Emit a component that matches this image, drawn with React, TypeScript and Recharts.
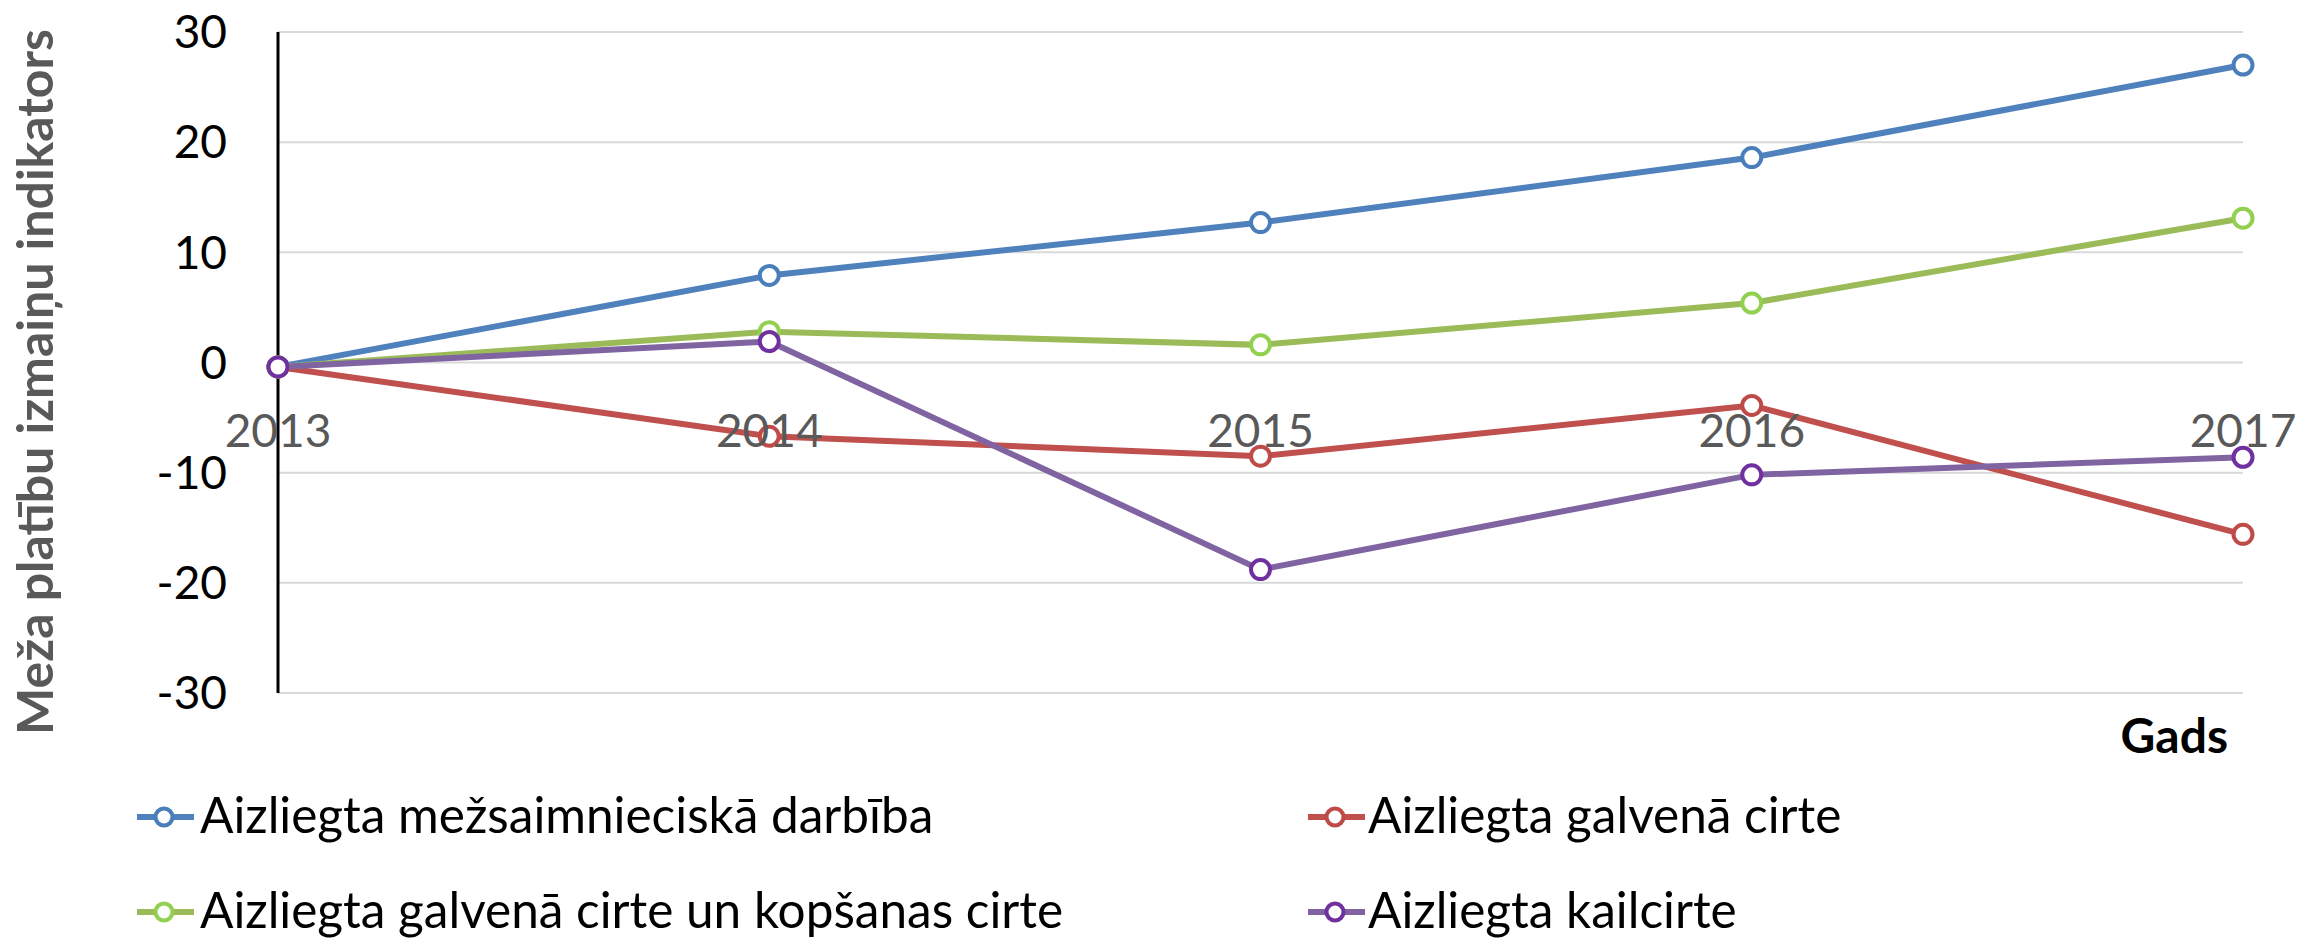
import React from 'react';
import { LineChart, Line, XAxis, YAxis, CartesianGrid, Legend } from 'recharts';

const years = ['2013', '2014', '2015', '2016', '2017'];
const mezsaimnieciska = [-0.4, 7.9, 12.7, 18.6, 27.0];
const galvena = [-0.4, -6.7, -8.5, -3.9, -15.6];
const galvenaKopsanas = [-0.4, 2.8, 1.6, 5.4, 13.1];
const kailcirte = [-0.4, 1.9, -18.8, -10.2, -8.6];
const yTicks = [-30, -20, -10, 0, 10, 20, 30];

const seriesNames = {
  a: 'Aizliegta mežsaimnieciskā darbība',
  b: 'Aizliegta galvenā cirte',
  c: 'Aizliegta galvenā cirte un kopšanas cirte',
  d: 'Aizliegta kailcirte',
};

const data = years.map((y, i) => ({
  year: y,
  a: mezsaimnieciska[i],
  b: galvena[i],
  c: galvenaKopsanas[i],
  d: kailcirte[i],
}));

const W = 2298;
const H = 938;
const PLOT_TOP = 32;
const PLOT_LEFT = 278;
const PLOT_RIGHT = 2243;
const PLOT_BOTTOM = 693;
const LEGEND_H = 160;
const Y_MIN = -30;
const Y_MAX = 30;
const FONT = 'Lato, "Open Sans", sans-serif';

const styles = [
  { key: 'a', line: '#4F81BD', marker: '#4A7EBB' },
  { key: 'b', line: '#C0504D', marker: '#BE4B48' },
  { key: 'c', line: '#9BBB59', marker: '#92D050' },
  { key: 'd', line: '#8064A2', marker: '#7030A0' },
];

const XTick = (props: any) => {
  const { x, payload } = props;
  const zeroY = PLOT_TOP + ((PLOT_BOTTOM - PLOT_TOP) * (Y_MAX - 0)) / (Y_MAX - Y_MIN);
  return (
    <text x={x} y={zeroY + 84} textAnchor="middle" fill="#595959" fontSize={46} fontFamily={FONT}>
      {payload.value}
    </text>
  );
};

const YTitle = () => (
  <text
    x={53}
    y={382}
    transform="rotate(-90, 53, 382)"
    textAnchor="middle"
    fill="#595959"
    fontWeight="bold"
    fontSize={50}
    fontFamily={FONT}
  >
    Meža platību izmaiņu indikators
  </text>
);

const GadsLabel = () => (
  <text x={2228} y={753} textAnchor="end" fill="#000" fontWeight="bold" fontSize={48} fontFamily={FONT}>
    Gads
  </text>
);

const legendPos = [
  { key: 'a', x: 137, textX: 200, lineY: 39, baseY: 55 },
  { key: 'b', x: 1308, textX: 1368, lineY: 39, baseY: 55 },
  { key: 'c', x: 137, textX: 200, lineY: 134, baseY: 150 },
  { key: 'd', x: 1308, textX: 1368, lineY: 134, baseY: 150 },
];

const CustomLegend = () => (
  <svg width={W} height={LEGEND_H} style={{ display: 'block' }}>
    {legendPos.map((p) => {
      const s = styles.find((st) => st.key === p.key)!;
      return (
        <g key={p.key}>
          <line x1={p.x} x2={p.x + 57} y1={p.lineY} y2={p.lineY} stroke={s.line} strokeWidth={6} />
          <circle cx={p.x + 27} cy={p.lineY} r={8.5} fill="#fff" stroke={s.marker} strokeWidth={4} />
          <text x={p.textX} y={p.baseY} fill="#000" fontSize={49.5} fontFamily={FONT}>
            {(seriesNames as any)[p.key]}
          </text>
        </g>
      );
    })}
  </svg>
);

export default function App() {
  return (
    <div style={{ position: 'absolute', left: 0, top: 0, width: W, height: H, background: '#fff' }}>
      <LineChart
        width={W}
        height={H}
        data={data}
        margin={{ top: PLOT_TOP, right: W - PLOT_RIGHT, left: 0, bottom: 0 }}
      >
        <CartesianGrid vertical={false} stroke="#D9D9D9" strokeWidth={2} />
        <XAxis
          dataKey="year"
          scale="point"
          padding={{ left: 0, right: 0 }}
          axisLine={false}
          tickLine={false}
          interval={0}
          height={H - PLOT_BOTTOM - LEGEND_H}
          tick={<XTick />}
          label={{ content: () => <GadsLabel /> }}
        />
        <YAxis
          width={PLOT_LEFT}
          domain={[Y_MIN, Y_MAX]}
          ticks={yTicks}
          interval={0}
          axisLine={{ stroke: '#000', strokeWidth: 3 }}
          tickLine={false}
          tickSize={0}
          tickMargin={51}
          tick={{ fill: '#000', fontSize: 46, fontFamily: FONT }}
          label={{ content: () => <YTitle /> }}
        />
        <Legend
          verticalAlign="bottom"
          height={LEGEND_H}
          width={W}
          wrapperStyle={{ left: 0, bottom: 0, width: W, height: LEGEND_H }}
          content={() => <CustomLegend />}
        />
        {styles.map((s) => (
          <Line
            key={s.key}
            type="linear"
            dataKey={s.key}
            name={(seriesNames as any)[s.key]}
            stroke={s.line}
            strokeWidth={6}
            dot={{ r: 9.5, fill: '#fff', stroke: s.marker, strokeWidth: 4 }}
            activeDot={false}
            isAnimationActive={false}
          />
        ))}
      </LineChart>
    </div>
  );
}
